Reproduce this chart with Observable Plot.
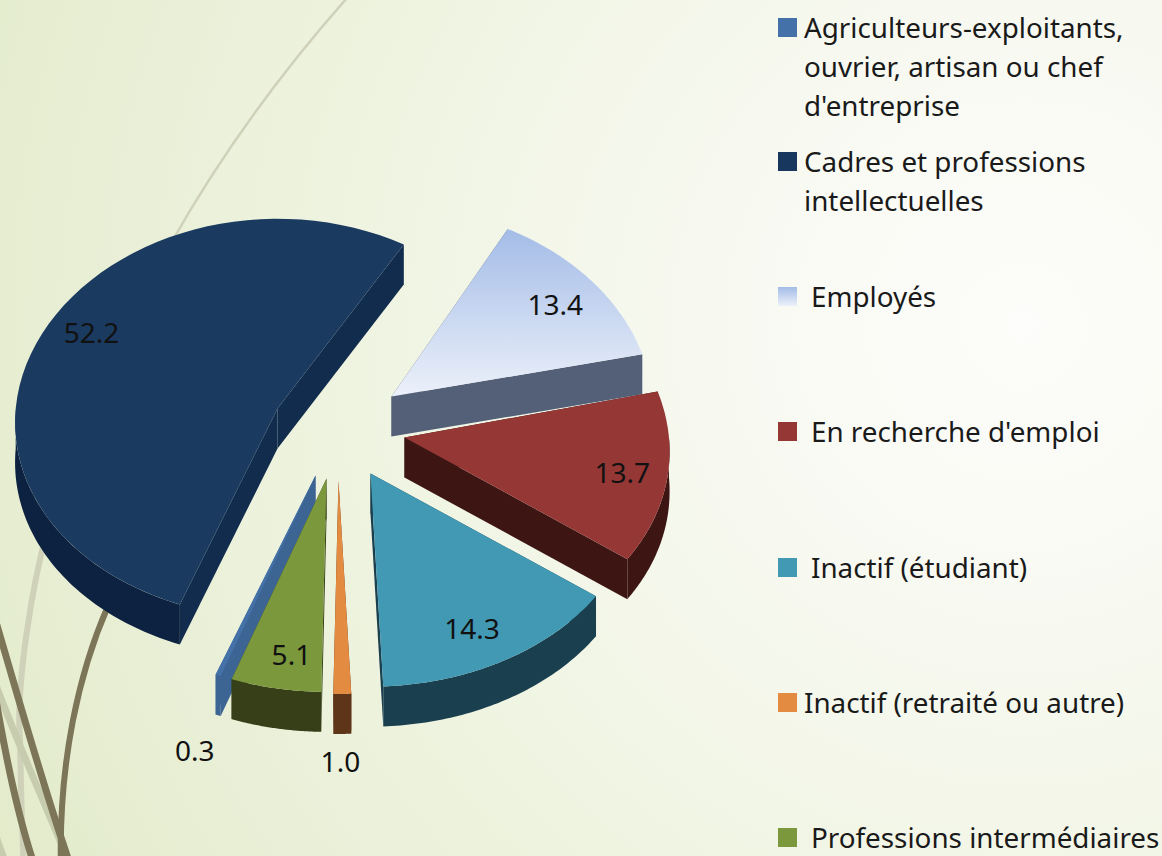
<!DOCTYPE html>
<html><head><meta charset="utf-8">
<script src="https://cdn.jsdelivr.net/npm/d3@7"></script>
<script src="https://cdn.jsdelivr.net/npm/@observablehq/plot@0.6"></script>
<style>
html,body{margin:0;padding:0;width:1162px;height:856px;overflow:hidden}
body{position:relative;font-family:"Noto Sans",sans-serif;color:#1a1a1a;
 background-color:#eef3df;
 background-image:url("data:image/svg+xml,%3Csvg xmlns='http://www.w3.org/2000/svg' width='1162' height='856'%3E%3Cg fill='none' stroke-linecap='round'%3E%3Cpath d='M347 -2C270 85 215 165 170 245C110 350 60 470 48 540' stroke='%23cfd2b8' stroke-width='2.5'/%3E%3Cpath d='M50 520C30 590 16 690 20 740C21 790 22 830 24 870' stroke='%23cfd2b8' stroke-width='6'/%3E%3Cpath d='M-6 680C20 750 48 810 72 870' stroke='%23c8ccae' stroke-width='7'/%3E%3Cpath d='M-6 830C0 850 5 860 8 870' stroke='%23c8ccae' stroke-width='7'/%3E%3Cpath d='M108 606C80 670 58 760 61 870' stroke='%237d7558' stroke-width='6'/%3E%3Cpath d='M-4 622C22 710 44 790 72 870' stroke='%237d7558' stroke-width='7'/%3E%3Cpath d='M-4 700C8 770 22 830 36 870' stroke='%237d7558' stroke-width='7'/%3E%3C/g%3E%3C/svg%3E"),
 radial-gradient(circle at 88% 38%,#fdfdfb 0,#f7f9f0 28%,#eef3df 62%,#e3ebcb 100%);
 background-repeat:no-repeat}
#chart{position:absolute;left:0;top:0}
#chart svg{background:transparent!important;display:block}
.key{position:absolute;left:778px;width:19px;height:19px}
.lab{position:absolute;font-size:27.8px;line-height:40px;white-space:nowrap}
</style></head><body>
<div id="chart"></div>
<script>
// ---- data ----
const categories = ["Agriculteurs-exploitants, ouvrier, artisan ou chef d'entreprise","Cadres et professions intellectuelles","Employés","En recherche d'emploi","Inactif (étudiant)","Inactif (retraité ou autre)","Professions intermédiaires"];
const values = [0.3,52.2,13.4,13.7,14.3,1.0,5.1];
const valueLabels = ["0.3","52.2","13.4","13.7","14.3","1.0","5.1"];
const legendLines = [["Agriculteurs-exploitants,","ouvrier, artisan ou chef","d'entreprise"],["Cadres et professions","intellectuelles"],["Employés"],["En recherche d'emploi"],["Inactif (étudiant)"],["Inactif (retraité ou autre)"],["Professions intermédiaires"]];

// ---- styling ----
const topColors = ["#4472a8","#1a3a60","url(#empGrad)","#953735","#4299b3","#e38b40","#7b983c"];
const cutColors = ["#3d6594","#122c4e","#536078","#3d1513","#1a3f4f","#5e3519","#363f18"];
const rimColors = ["#3d6594","#0c2240","#536078","#3d1513","#1a3f4f","#5e3519","#363f18"];
const legendColors = ["#4472a8","#17375e","url(#k)","#953735","#4299b3","#e38b40","#7b983c"];
const legendTop = [8,142,277,412,548,683,818];
const legendX = [804,804,811,811,811,804,811];
// how far each slice is pulled out of the pie (in radii)
const pullX = [-0.0947,-0.2386,0.1932,0.2424,0.1136,-0.0076,-0.0530];
const pullY = [0.2139,-0.1194,-0.1791,0.0249,0.2040,0.2388,0.2289];
// label position as a fraction of the radius along the slice's mid-angle
const labelX = [1.34,0.774,0.782,0.841,0.811,0.54,0.75];
const labelY = [1.466,0.891,0.738,0.937,0.882,1.408,0.895];
// perspective widening of the slice's far edge, in degrees
const farEdgeDeg = [0,2.5,1,0,0,0,0];
const paintOrder = [1,0,2,3,4,6,5];
const W=1162,H=856,cx=340,cy=432,rx=264,ry=201,depth=40/201,startDeg=199.4,kx=0.07,ky=0.05;

// ---- pie geometry, all derived from the values ----
const total=d3.sum(values), rad=Math.PI/180;
const unit=t=>[Math.sin(t*rad),-Math.cos(t*rad)];
let acc=startDeg;
const slices=values.map((v,i)=>{
  const a0=acc,a1=acc+v/total*360+farEdgeDeg[i]; acc=a1-farEdgeDeg[i];
  const mid=unit((a0+a1-farEdgeDeg[i])/2);
  const ax=pullX[i], ay=pullY[i];
  const pt=(t,d=0)=>{const u=unit(t),Y=u[1]+ay;
    return {px:ax+u[0]*(1+kx*Y),py:-(ay+u[1]*(1+ky*Y))-d}};
  const arc=(s,e,d=0)=>d3.range(0,61).map(k=>pt(s+(e-s)*k/60,d));
  const apex=d=>({px:ax,py:-ay-d});
  const topFace=[apex(0),...arc(a0,a1)];
  const cut=t=>[apex(0),pt(t),pt(t,depth),apex(depth)];
  const rims=[];
  for(const off of [0,360]){
    const s=Math.max(a0,90+off),e=Math.min(a1,270+off);
    if(e>s) rims.push([...arc(s,e),...arc(e,s,depth)]);
  }
  const lab={px:ax+mid[0]*labelX[i],py:-(ay+mid[1]*labelY[i]),text:valueLabels[i]};
  return {i,topFace,cuts:[cut(a0),cut(a1)],rims,lab};
});

const face=(pts,fill)=>Plot.line(pts,{x:"px",y:"py",fill,stroke:"none",curve:"linear"});
const defs=()=>{
  const d=d3.create("svg:defs");
  const g=d.append("linearGradient").attr("id","empGrad").attr("x1",0).attr("y1",0).attr("x2",0).attr("y2",1);
  g.append("stop").attr("offset",0).attr("stop-color","#a4bce7");
  g.append("stop").attr("offset",1).attr("stop-color","#ecf1fa");
  return d.node();
};
const marks=[defs];
for(const k of paintOrder){
  const s=slices[k];
  s.cuts.forEach(c=>marks.push(face(c,cutColors[k])));
  s.rims.forEach(c=>marks.push(face(c,rimColors[k])));
  marks.push(face(s.topFace,topColors[k]));
}
marks.push(Plot.text(slices.map(s=>s.lab),{x:"px",y:"py",text:"text",fontSize:28,fontFamily:"Noto Sans",fill:"#111"}));

const plot=Plot.plot({
  width:W,height:H,margin:0,
  style:{background:"transparent",fontFamily:"Noto Sans"},
  x:{domain:[-cx/rx,(W-cx)/rx],range:[0,W],axis:null},
  y:{domain:[cy/ry,-(H-cy)/ry],range:[0,H],axis:null},
  marks
});
document.getElementById("chart").append(plot);

// ---- legend ----
legendLines.forEach((lines,i)=>{
  const k=document.createElement("div");k.className="key";
  k.style.top=(legendTop[i]+10)+"px";
  k.style.background=i===2?"linear-gradient(#a4bce7,#ecf1fa)":legendColors[i];
  document.body.append(k);
  lines.forEach((t,j)=>{
    const e=document.createElement("div");e.className="lab";
    e.style.left=legendX[i]+"px";e.style.top=(legendTop[i]+j*39.2-1)+"px";e.textContent=t;
    document.body.append(e);
  });
});
</script>
</body></html>
